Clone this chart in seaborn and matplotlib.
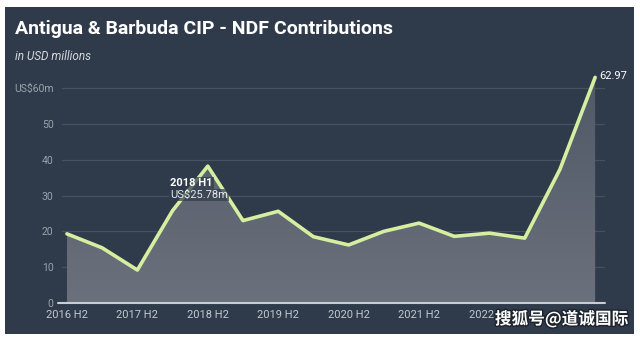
import numpy as np
import pandas as pd
import matplotlib
matplotlib.use("Agg")
import matplotlib.pyplot as plt
import seaborn as sns
from matplotlib.patches import Rectangle, Polygon
import matplotlib.patheffects as pe

periods = ["2016 H2", "2017 H1", "2017 H2", "2018 H1", "2018 H2", "2019 H1", "2019 H2",
           "2020 H1", "2020 H2", "2021 H1", "2021 H2", "2022 H1", "2022 H2", "2023 H1",
           "2023 H2", "2024 H1"]
values = [19.3, 15.4, 9.2, 25.78, 38.2, 23.0, 25.6, 18.5, 16.2, 20.0, 22.3, 18.6, 19.5, 18.1,
          37.3, 62.97]
y_ticks = [0, 10, 20, 30, 40, 50, 60]
y_tick_labels = ["0", "10", "20", "30", "40", "50", "US$60m"]
x_tick_labels = ["2016 H2", "2017 H2", "2018 H2", "2019 H2", "2020 H2", "2021 H2", "2022 H2"]

df = pd.DataFrame({"period": periods, "value": values, "idx": range(len(periods))})

sns.set_style("dark")
plt.rcParams["font.family"] = ["Roboto", "DejaVu Sans"]

BG = "#2f3b4b"
W, H = 640, 337
fig = plt.figure(figsize=(6.4, 3.37), dpi=100, facecolor="white")
fig.patches.append(Rectangle((5 / W, 3 / H), 629 / W, 327 / H, transform=fig.transFigure,
                             facecolor=BG, edgecolor="none", zorder=-5))

ax = fig.add_axes([62 / W, (H - 303) / H, (605 - 62) / W, 65 * 3.583 / H])
ax.set_zorder(2)
ax.set_facecolor("none")
ax.patch.set_alpha(0)

# gradient fill under the line
x = df["idx"].to_numpy()
y = df["value"].to_numpy()
verts = [(x[0], 0)] + list(zip(x, y)) + [(x[-1], 0)]
poly = Polygon(verts, closed=True, facecolor="none", edgecolor="none")
ax.add_patch(poly)
grad = np.linspace(0, 1, 256).reshape(-1, 1)
cmap = matplotlib.colors.LinearSegmentedColormap.from_list(
    "g", ["#6b717c", "#4f5866"])
im = ax.imshow(grad, extent=[x[0], x[-1], 0, 65], origin="lower", aspect="auto",
               cmap=cmap, zorder=1)
im.set_clip_path(poly)

for t in y_ticks[1:]:
    ax.axhline(t, color="#46525f", lw=0.9, zorder=0.5)
ax.plot([-0.25, 15.28], [0, 0], color="#c9cdd3", lw=1.5, zorder=3, clip_on=False)

sns.lineplot(data=df, x="idx", y="value", ax=ax, color="#d6eea0", lw=2.6, zorder=4,
             solid_joinstyle="round", solid_capstyle="round")

ax.set_xlim(-0.14, 15.28)
ax.set_ylim(0, 65)
ax.set_xticks([periods.index(p) for p in x_tick_labels])
ax.set_xticklabels(x_tick_labels, color="#c3c8ce", fontsize=8)
ax.set_yticks(y_ticks)
ax.set_yticklabels(y_tick_labels, color="#9aa3ad", fontsize=7.5)
ax.tick_params(axis="x", length=0, pad=5)
ax.tick_params(axis="y", length=0, pad=6)
ax.grid(False)
for s in ax.spines.values():
    s.set_visible(False)
ax.set_xlabel("")
ax.set_ylabel("")

# annotations
ax.annotate("62.97", (x[-1], y[-1]), xytext=(3, 1), textcoords="offset points",
            color="white", fontsize=8, va="center", ha="left")
i = periods.index("2018 H1")
fig.text(170 / W, 1 - 183 / H, "2018 H1", color="white", fontsize=8, fontweight="bold",
         va="center", ha="left", zorder=10,
         bbox=dict(boxstyle="square,pad=0.1", facecolor=BG, edgecolor="none", alpha=0.7))
fig.text(170 / W, 1 - 195 / H, f"US${values[i]:.2f}m", color="#e6e9ec", fontsize=8,
         va="center", ha="left", zorder=10,
         bbox=dict(boxstyle="square,pad=0.1", facecolor=BG, edgecolor="none", alpha=0.7))

fig.text(15 / W, 1 - 29 / H, "Antigua & Barbuda CIP - NDF Contributions", color="white",
         fontsize=14, fontweight="bold", va="center", ha="left")
fig.text(15 / W, 1 - 56 / H, "in USD millions", color="#d5d9dd", fontsize=8.5,
         style="italic", va="center", ha="left")

fig.text(628 / W, 1 - 319 / H, "搜狐号@道诚国际", color="white", fontsize=12,
         fontweight="bold", va="center", ha="right", zorder=10,
         family=["Noto Sans CJK SC", "DejaVu Sans"],
         path_effects=[pe.withStroke(linewidth=2, foreground="#1c232c")])

fig.savefig("out.png", dpi=100, facecolor="white")
